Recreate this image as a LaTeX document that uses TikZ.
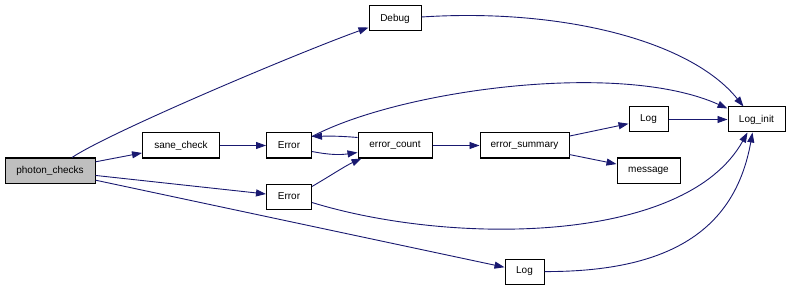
\documentclass[tikz,border=0pt]{standalone}
\usepackage{fontspec}
\setmainfont{Liberation Sans}
\usepackage{tikz}
\usetikzlibrary{arrows.meta}
\definecolor{edgeblue}{HTML}{191970}

\begin{document}
\begin{tikzpicture}[x=1pt, y=-1pt,
  fn/.style={draw, line width=1pt, minimum height=25pt, inner sep=0pt,
    font=\fontsize{10}{12}\selectfont},
  call/.style={draw=edgeblue, line width=0.9pt,
    -{Triangle[length=10pt,width=7pt]}}]
\useasboundingbox (0,0) rectangle (791,291);

\node[fn, fill=black!25, minimum width=90pt] (pc) at (50,170.5) {photon\_checks};
\node[fn, minimum width=52pt] (debug) at (395,18.5) {Debug};
\node[fn, minimum width=77pt] (sane) at (181,145.5) {sane\_check};
\node[fn, minimum width=45pt] (err1) at (289,145.5) {Error};
\node[fn, minimum width=45pt] (err2) at (289,196.5) {Error};
\node[fn, minimum width=74pt] (ecount) at (395,145.5) {error\_count};
\node[fn, minimum width=89pt] (esum) at (524.5,145.5) {error\_summary};
\node[fn, minimum width=39pt] (log1) at (648.5,119.5) {Log};
\node[fn, minimum width=63pt] (msg) at (648.5,170.5) {message};
\node[fn, minimum width=39pt] (log2) at (524.5,271.5) {Log};
\node[fn, minimum width=57pt] (loginit) at (756.5,119.5) {Log\_init};

% calls out of photon_checks
\draw[call] ([xshift=22pt]pc.north) .. controls (110,132) and (300,52) .. ([yshift=4pt]debug.south west);
\draw[call] (pc) -- (sane);
\draw[call] (pc) -- (err2);
\draw[call] (pc) -- (log2);

\draw[call] (sane) -- (err1);

% Error <-> error_count
\draw[call] ([yshift=-6pt]err1.east) .. controls (330,155) and (340,155) .. ([yshift=-7pt]ecount.west);
\draw[call] ([yshift=8pt]ecount.west) .. controls (340,136) and (330,136) .. ([yshift=9pt]err1.east);
\draw[call] ([yshift=10pt]err2.east) .. controls (330,176) and (345,166) .. ([xshift=4pt]ecount.south west);

% everything ends in Log_init
\draw[call] ([yshift=9pt]err1.east) .. controls (400,90) and (620,60) .. ([yshift=11pt]loginit.west);
\draw[call] ([yshift=-6pt]err2.east) .. controls (450,245) and (685,245) .. ([xshift=-9pt]loginit.south);
\draw[call] (log2) .. controls (670,272) and (735,230) .. ([xshift=-4pt]loginit.south);
\draw[call] ([yshift=1.5pt]debug.east) .. controls (560,8) and (690,40) .. ([xshift=-13pt]loginit.north);
\draw[call] (log1) -- (loginit);

\draw[call] (ecount) -- (esum);
\draw[call] (esum) -- (log1);
\draw[call] (esum) -- (msg);
\end{tikzpicture}
\end{document}
